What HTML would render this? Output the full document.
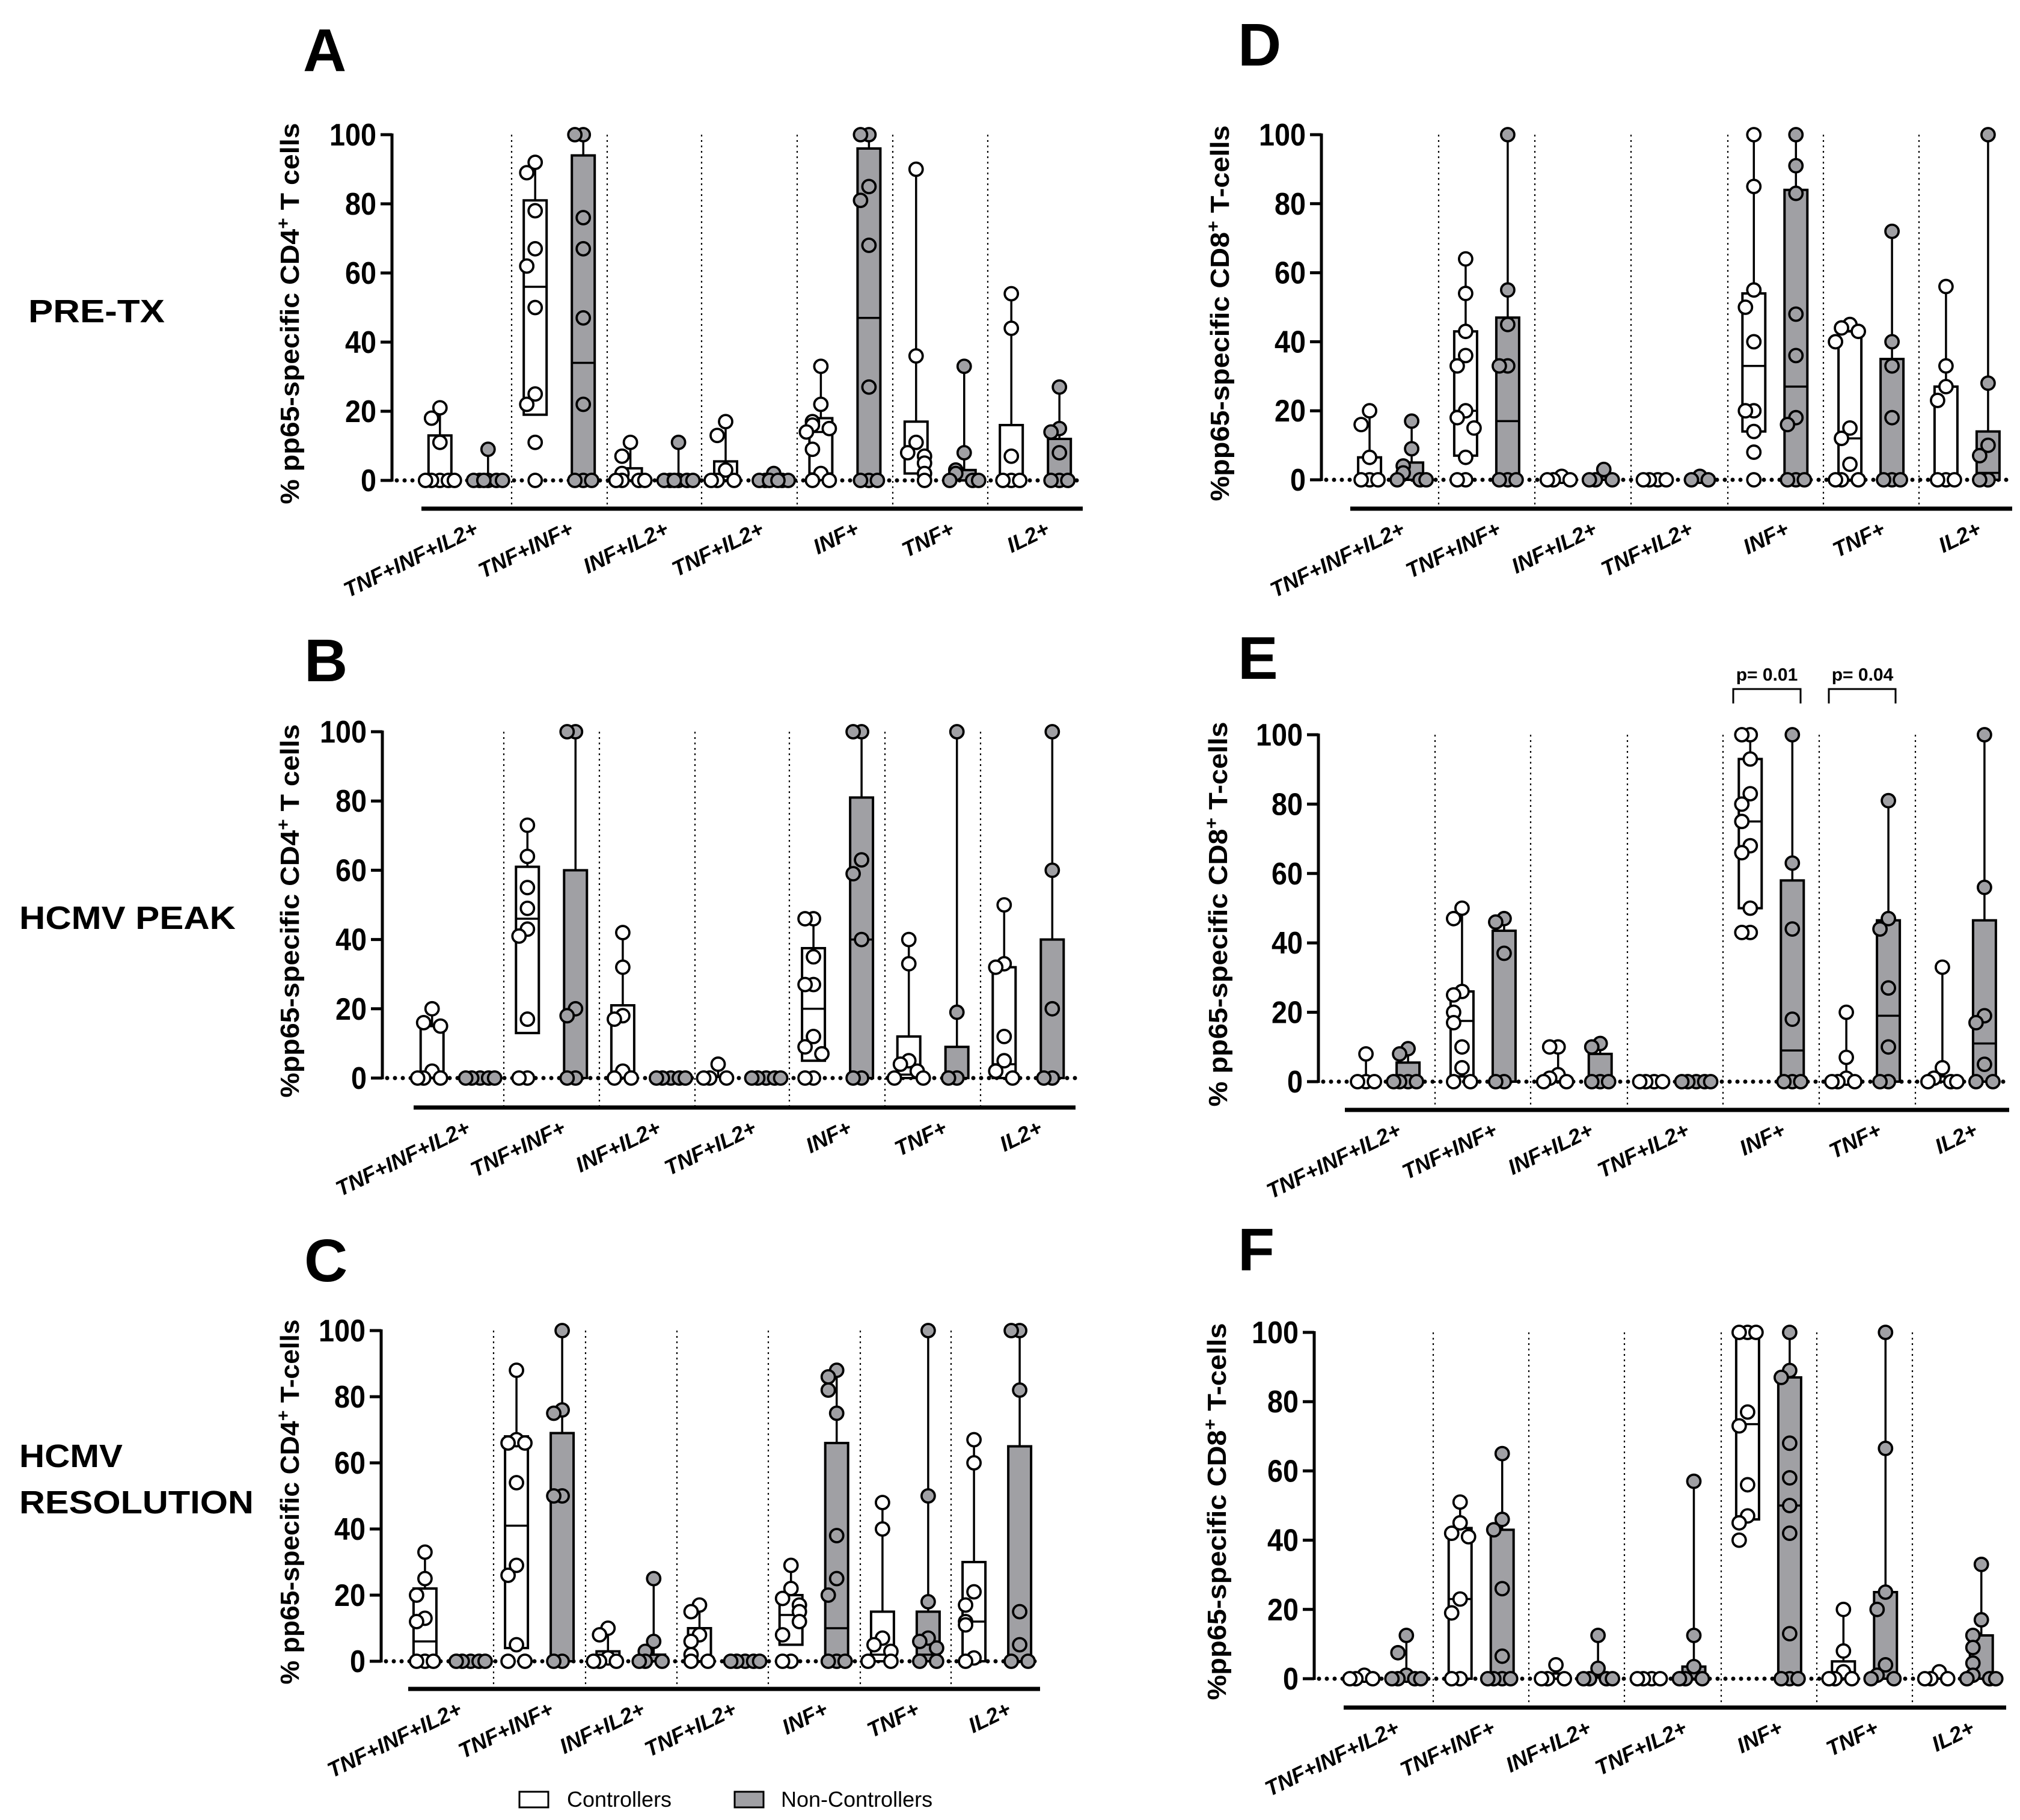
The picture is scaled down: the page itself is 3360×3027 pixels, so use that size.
<!DOCTYPE html>
<html><head><meta charset="utf-8"><style>
html,body{margin:0;padding:0;background:#fff;}
svg{display:block;}
text{font-family:"Liberation Sans",sans-serif;}
.n{font-family:"Liberation Sans Narrow","Liberation Sans",sans-serif;font-weight:bold;}
</style></head><body>
<svg id="fig" width="3360" height="3027" viewBox="0 0 3360 3027" xmlns="http://www.w3.org/2000/svg">
<rect width="3360" height="3027" fill="#fff"/>
<g font-weight="bold" font-size="100">
<text x="504" y="118">A</text>
<text x="506" y="1133">B</text>
<text x="506" y="2131">C</text>
<text x="2059" y="109">D</text>
<text x="2059" y="1129">E</text>
<text x="2059" y="2113">F</text>
</g>
<g font-weight="bold" font-size="54">
<text x="47" y="536" textLength="227" lengthAdjust="spacingAndGlyphs">PRE-TX</text>
<text x="32" y="1545" textLength="360" lengthAdjust="spacingAndGlyphs">HCMV PEAK</text>
<text x="32" y="2440" textLength="172" lengthAdjust="spacingAndGlyphs">HCMV</text>
<text x="32" y="2517" textLength="390" lengthAdjust="spacingAndGlyphs">RESOLUTION</text>
</g>
<g>
<rect x="864" y="2980" width="48" height="26" fill="#fff" stroke="#000" stroke-width="3"/>
<text x="943" y="3005" font-size="36" class="n" style="font-weight:normal">Controllers</text>
<rect x="1222" y="2980" width="48" height="26" fill="#a0a0a4" stroke="#000" stroke-width="3"/>
<text x="1299" y="3005" font-size="36" class="n" style="font-weight:normal">Non-Controllers</text>
</g>
<g>
<path d="M2883 1170 V1146 H2995 V1170" fill="none" stroke="#000" stroke-width="3"/>
<text x="2939" y="1132" text-anchor="middle" font-size="30" class="n">p= 0.01</text>
<path d="M3042 1170 V1146 H3153 V1170" fill="none" stroke="#000" stroke-width="3"/>
<text x="3098" y="1132" text-anchor="middle" font-size="30" class="n">p= 0.04</text>
</g>
</svg>
<script>
const categories = ["TNF+INF+IL2+","TNF+INF+","INF+IL2+","TNF+IL2+","INF+","TNF+","IL2+"];
const yTicks = [0,20,40,60,80,100];

// Panel A: [lo, median, hi] boxes, whisker max, points
const A_ctrlBox = [[0,0,13],[19,56,81],[0,0,3.5],[0,0,5.5],[2,14,18],[2,2,17],[0,1,16]];
const A_ctrlMax = [21,92,11,17,33,90,54];
const A_ctrlPts = [[21,18,11,0,0,0,0,0],[92,89,78,67,62,50,25,22,11,0],[11,7,2,0,0,0,0],[17,13,3,0,0,0],[33,22,17,16,15,14,9,2,0,0],[90,36,11,8,7,5,2,0],[54,44,7,0,0,0]];
const A_ncBox = [[0,0,0],[0,34,94],[0,0,0],[0,0,0],[0,47,96],[0,0,3],[0,0,12]];
const A_ncMax = [9,100,11,2,100,33,27];
const A_ncPts = [[9,0,0,0,0,0,0],[100,100,76,67,47,22,0,0,0],[11,0,0,0,0,0,0],[2,0,0,0,0,0,0],[100,100,85,81,68,27,0,0,0],[33,8,3,2,0,0,0],[27,15,14,8,0,0,0]];

// Panel B
const B_ctrlBox = [[0,0,15],[13,46,61],[0,0,21],[0,0,0],[5,20,37.5],[0,1,12],[0,4,32]];
const B_ctrlMax = [20,73,42,4,46,40,50];
const B_ctrlPts = [[20,16,15,2,0,0,0],[73,64,55,49,43,41,17,0,0],[42,32,18,17,2,0,0],[4,0,0,0],[46,46,35,27,27,12,9,7,0,0],[40,33,5,4,2,0,0],[50,33,32,12,5,2,0]];
const B_ncBox = [[0,0,0],[0,0,60],[0,0,0],[0,0,0],[0,40,81],[0,0,9],[0,0,40]];
const B_ncMax = [0,100,0,0,100,100,100];
const B_ncPts = [[0,0,0,0,0],[100,100,20,18,0,0],[0,0,0,0,0],[0,0,0,0,0],[100,100,63,59,40,0,0],[100,19,0,0],[100,60,20,0,0]];

// Panel C
const C_ctrlBox = [[0,6,22],[4,41,68],[0,0,3],[0,0,10],[5,14,20],[0,2,15],[0,12,30]];
const C_ctrlMax = [33,88,10,17,29,48,67];
const C_ctrlPts = [[33,25,20,13,12,0,0,0],[88,67,66,66,54,29,26,5,0,0],[10,8,1,0,0,0],[17,15,8,6,2,0,0],[29,22,19,17,15,12,8,0,0],[48,40,7,5,3,0,0],[67,60,21,17,12,11,1,0]];
const C_ncBox = [[0,0,0],[0,0,69],[0,0,2],[0,0,0],[0,10,66],[0,2,15],[0,0,65]];
const C_ncMax = [0,100,25,0,88,100,100];
const C_ncPts = [[0,0,0,0,0],[100,76,75,50,50,0,0],[25,6,3,0,0,0],[0,0,0,0,0],[88,86,82,75,38,25,20,0,0,0],[100,50,18,7,6,4,0,0],[100,100,82,15,5,0,0]];

// Panel D
const D_ctrlBox = [[0,0,6.5],[7,20,43],[0,0,0],[0,0,0],[14,33,54],[0,12,43],[0,1,27]];
const D_ctrlMax = [20,64,1,0,100,45,56];
const D_ctrlPts = [[20,16,6.5,0,0,0],[64,54,43,36,33,20,18,15,6.5,0,0],[1,0,0,0],[0,0,0,0],[100,85,55,50,40,20,20,14,8,0],[45,44,43,40,15,12,4.5,0,0,0],[56,33,27,23,0,0,0]];
const D_ncBox = [[0,0,5],[0,17,47],[0,0,1],[0,0,0],[0,27,84],[0,0,35],[0,2,14]];
const D_ncMax = [17,100,3,1,100,72,100];
const D_ncPts = [[17,9,4,2,0,0,0],[100,55,45,33,33,0,0,0],[3,0,0,0],[1,0,0],[100,91,83,48,36,18,16,0,0,0],[72,40,33,18,0,0,0],[100,28,10,7,0,0]];

// Panel E
const E_ctrlBox = [[0,0,0],[1.5,17.5,26],[0,0,1.5],[0,0,0],[50,75,93],[0,0,1.5],[0,0,1.5]];
const E_ctrlMax = [8,50,10,0,100,20,33];
const E_ctrlPts = [[8,0,0,0],[50,47,26,25,20,17,10,4,0,0],[10,10,2,1,0,0],[0,0,0,0],[100,100,93,83,80,75,68,66,50,43,43],[20,7,1,0,0,0],[33,4,1,0,0,0]];
const E_ncBox = [[0,1.5,5.5],[0,0,43.5],[0,0,8],[0,0,0],[0,9,58],[0,19,46.5],[0,11,46.5]];
const E_ncMax = [9.5,47,11,0,100,81,100];
const E_ncPts = [[9.5,8,0,0,0,0],[47,46,37,0,0],[11,10,0,0,0],[0,0,0,0,0],[100,63,44,18,0,0,0],[81,47,44,27,10,0,0],[100,56,19,17,5,0,0]];

// Panel F
const F_ctrlBox = [[0,0,0],[0,23,43.5],[0,0,1.5],[0,0,0],[46,73.5,100],[0,0,5],[0,0,1.5]];
const F_ctrlMax = [1,51,4,0,100,20,2];
const F_ctrlPts = [[1,0,0,0],[51,45,42,41,23,19,0,0],[4,0,0,0],[0,0,0,0],[100,100,100,77,73,56,47,45,40],[20,8,2,0,0,0],[2,0,0,0]];
const F_ncBox = [[0,0,1.5],[0,0,43],[0,0,0],[0,0,3.5],[0,50,87],[0,0,25],[0,0,12.5]];
const F_ncMax = [12.5,65,12.5,57,100,100,33];
const F_ncPts = [[12.5,7.5,1,0,0,0,0],[65,46,43,26,6.5,0,0,0,0],[12.5,3,0,0,0,0],[57,12.5,3.5,0,0,0],[100,89,87,68,58,50,42,13,0,0,0],[100,66.5,25,20,4,1,0,0],[33,17,12.5,9,4.5,1,0,0,0]];

const panels = [
 {id:"a",ax:652,y100:224,y0:799,base:846,bx0:701,bx1:1801,seps:[851,1010,1167,1326,1485,1643],d:40,tx:482,title:"% pp65-specific CD4",tail:" T cells",tlen:634,
  cb:A_ctrlBox,cm:A_ctrlMax,cp:A_ctrlPts,nb:A_ncBox,nm:A_ncMax,np:A_ncPts},
 {id:"b",ax:636,y100:1217,y0:1793,base:1842,bx0:688,bx1:1789,seps:[838,997,1156,1313,1472,1631],d:40,tx:482,title:"%pp65-specific CD4",tail:" T cells",tlen:621,
  cb:B_ctrlBox,cm:B_ctrlMax,cp:B_ctrlPts,nb:B_ncBox,nm:B_ncMax,np:B_ncPts},
 {id:"c",ax:634,y100:2213,y0:2763,base:2809,bx0:679,bx1:1730,seps:[821,974,1126,1278,1431,1582],d:38,tx:482,title:"% pp65-specific CD4",tail:" T-cells",tlen:607,
  cb:C_ctrlBox,cm:C_ctrlMax,cp:C_ctrlPts,nb:C_ncBox,nm:C_ncMax,np:C_ncPts},
 {id:"d",ax:2198,y100:224,y0:798,base:846,bx0:2246,bx1:3347,seps:[2393,2553,2713,2874,3033,3192],d:35,tx:2029,title:"%pp65-specific CD8",tail:" T-cells",tlen:625,
  cb:D_ctrlBox,cm:D_ctrlMax,cp:D_ctrlPts,nb:D_ncBox,nm:D_ncMax,np:D_ncPts},
 {id:"e",ax:2193,y100:1222,y0:1799,base:1846,bx0:2237,bx1:3342,seps:[2387,2546,2707,2866,3026,3186],d:35,tx:2026,title:"% pp65-specific CD8",tail:" T-cells",tlen:640,
  cb:E_ctrlBox,cm:E_ctrlMax,cp:E_ctrlPts,nb:E_ncBox,nm:E_ncMax,np:E_ncPts},
 {id:"f",ax:2186,y100:2216,y0:2792,base:2840,bx0:2235,bx1:3337,seps:[2384,2543,2702,2863,3022,3181],d:35,tx:2024,title:"%pp65-specific CD8",tail:" T-cells",tlen:627,
  cb:F_ctrlBox,cm:F_ctrlMax,cp:F_ctrlPts,nb:F_ncBox,nm:F_ncMax,np:F_ncPts}
];

const NS = "http://www.w3.org/2000/svg";
const svg = document.getElementById("fig");
function mk(tag, parent){ const e = document.createElementNS(NS, tag); parent.appendChild(e); return e; }
function set(e, o){ for (const k in o) e.setAttribute(k, o[k]); return e; }
const OFFS = [0,-14,14,-24,24,-7,7,-19,19];

panels.forEach(p => {
  const g = mk("g", svg);
  
  
  const y = v => p.y0 - (p.y0 - p.y100) * v / 100;
  const sp = (p.seps[5] - p.seps[0]) / 5;
  const cx = i => p.seps[0] + (i - 0.5) * sp;

  p.seps.forEach((sx) => {
    const l = set(mk("line", g), {x1:sx, x2:sx, y1:p.y100, y2:p.base, stroke:"#000", "stroke-width":2.2, "stroke-dasharray":"3 6"});
    
    
  });
  const bl = set(mk("line", g), {x1:p.bx0, x2:p.bx1, y1:p.base, y2:p.base, stroke:"#000", "stroke-width":7});
  
  
  const ya = set(mk("line", g), {x1:p.ax, x2:p.ax, y1:y(100)-2, y2:y(0)+2, stroke:"#000", "stroke-width":5});
  
  
  yTicks.forEach(t => {
    const tk = set(mk("line", g), {x1:p.ax-19, x2:p.ax, y1:y(t), y2:y(t), stroke:"#000", "stroke-width":5});
    
    
    const tl = set(mk("text", g), {x:p.ax-26, y:y(t)+18, "text-anchor":"end", "font-size":52, class:"n", textLength:26*String(t).length, lengthAdjust:"spacingAndGlyphs"});
    tl.textContent = t;
    
    
  });
  const zl = set(mk("line", g), {x1:p.ax+8, x2:p.bx1, y1:y(0), y2:y(0), stroke:"#000", "stroke-width":7, "stroke-dasharray":"0 13", "stroke-linecap":"round"});
  
  
  const ym = (p.y100 + p.y0) / 2 + 10;
  const tt = set(mk("text", g), {x:0, y:0, transform:`translate(${p.tx+15},${ym}) rotate(-90)`, "text-anchor":"middle", "font-size":44, "font-weight":"bold", textLength:p.tlen, lengthAdjust:"spacingAndGlyphs"});
  
  
  const t1 = mk("tspan", tt); t1.textContent = p.title;
  const t2 = set(mk("tspan", tt), {"baseline-shift":"super", "font-size":30}); t2.textContent = "+";
  const t3 = set(mk("tspan", tt), {"baseline-shift":"baseline"}); t3.textContent = p.tail;

  categories.forEach((c, i) => {
    const gx = cx(i);
    const xl = set(mk("text", g), {x:0, y:0, transform:`translate(${gx+26},${p.base+42}) rotate(-26)`, "text-anchor":"end", "font-size":36, "font-weight":"bold", "font-style":"italic"});
    xl.textContent = c;
    
    

    [["ctrl", gx - p.d, p.cb[i], p.cm[i], p.cp[i], "#fff"], ["nc", gx + p.d, p.nb[i], p.nm[i], p.np[i], "#a0a0a4"]].forEach(s => {
      const [kind, bx, box, mx, pts, fill] = s;
      const w = 38;
      if (mx > box[2]) {
        const wl = set(mk("line", g), {x1:bx, x2:bx, y1:y(box[2]), y2:y(mx), stroke:"#000", "stroke-width":3.5});
        
        
      }
      if (box[2] > 0.5) {
        const r = set(mk("rect", g), {x:bx - w/2, y:y(box[2]), width:w, height:y(box[0]) - y(box[2]), fill:fill, stroke:"#000", "stroke-width":4});
        
        
        const ml = set(mk("line", g), {x1:bx - w/2, x2:bx + w/2, y1:y(box[1]), y2:y(box[1]), stroke:"#000", "stroke-width":3.5});
        
        
      }
      const placed = [];
      pts.forEach(v => {
        const n = placed.filter(u => Math.abs(u - v) < 6).length;
        placed.push(v);
        const ci = set(mk("circle", g), {cx:bx + OFFS[n % OFFS.length], cy:y(v), r:11, fill:fill, stroke:"#000", "stroke-width":3.8});
        
        
      });
    });
  });
});
</script>
</body></html>
